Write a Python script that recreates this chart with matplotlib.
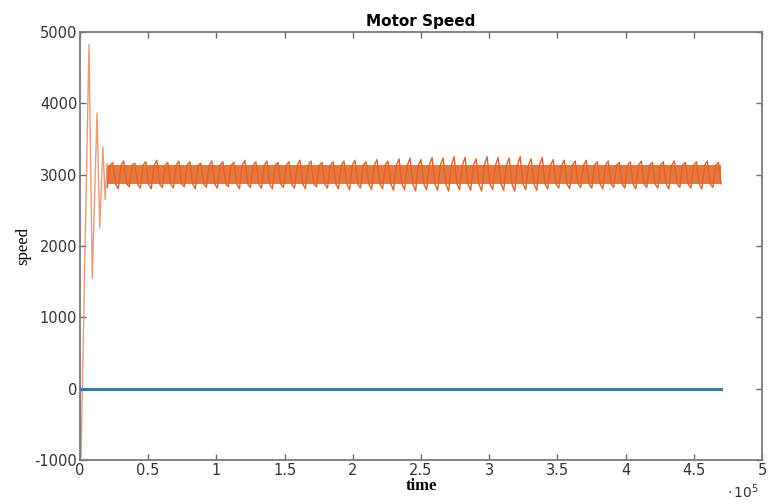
#!/usr/bin/env python3

import numpy as np
import matplotlib
matplotlib.use('Agg')
import matplotlib.pyplot as plt
from matplotlib.ticker import FuncFormatter

plt.rcParams['axes.unicode_minus'] = False

# start-up transient of the speed (time, speed)
trans_t = [0, 800, 6600, 9000, 12500, 14500, 16800, 18500, 19800]
trans_v = [0, -950, 4820, 1550, 3860, 2250, 3390, 2650, 3150]

# steady state ripple, one value pair per tooth
ripple_t0, ripple_t1 = 20000, 470000
ripple_hi = [3170, 3190, 3160, 3180, 3200, 3170, 3190, 3180, 3160, 3190,
             3180, 3170, 3200, 3180, 3190, 3170, 3180, 3200, 3190, 3170,
             3180, 3190, 3200, 3180, 3210, 3190, 3220, 3230, 3210, 3240,
             3230, 3250, 3240, 3220, 3250, 3240, 3230, 3250, 3220, 3240,
             3210, 3200, 3190, 3200, 3180, 3190, 3170, 3180, 3190, 3170,
             3180, 3190, 3170, 3180, 3190, 3170]
ripple_lo = [2820, 2800, 2830, 2810, 2800, 2820, 2810, 2830, 2800, 2820,
             2810, 2830, 2800, 2820, 2810, 2800, 2820, 2810, 2800, 2830,
             2810, 2800, 2790, 2810, 2790, 2800, 2780, 2790, 2770, 2790,
             2780, 2770, 2790, 2780, 2770, 2790, 2780, 2770, 2790, 2780,
             2800, 2810, 2800, 2820, 2810, 2800, 2820, 2810, 2800, 2820,
             2810, 2800, 2820, 2810, 2800, 2820]
core_lo, core_hi = 2870, 3130

# reference (zero) line
ref_t = [0, 470000]
ref_v = [0, 0]

orange = '#DF6228'
blue = '#3B7AA6'

fig = plt.figure(figsize=(7.69, 5.04), dpi=100)
ax = fig.add_axes([0.104, 0.087, 0.887, 0.850])

ax.plot(ref_t, ref_v, color=blue, lw=2.2, zorder=3)

ax.plot(trans_t, trans_v, color='#E58A60', lw=1.0, alpha=0.85, zorder=2)

# each tooth: trough, back into the core, spike, back into the core
n = len(ripple_hi)
tt = np.linspace(ripple_t0, ripple_t1, 4 * n)
vv = np.empty(4 * n)
vv[0::4] = ripple_lo
vv[1::4] = core_hi
vv[2::4] = ripple_hi
vv[3::4] = core_lo
ax.fill_between([ripple_t0, ripple_t1], core_lo, core_hi,
                color='#E7773F', lw=0, zorder=1)
ax.plot(tt, vv, color=orange, lw=1.0, zorder=2)

ax.set_xlim(0, 500000)
ax.set_ylim(-1000, 5000)
ax.set_xticks(np.arange(0, 500001, 50000))
ax.set_yticks(np.arange(-1000, 5001, 1000))
ax.xaxis.set_major_formatter(FuncFormatter(lambda v, p: f'{v / 1e5:g}'))

for s in ax.spines.values():
    s.set_color('#7a7a7a')
    s.set_linewidth(1.3)
ax.tick_params(direction='in', length=4, width=1, color='#666666',
               top=True, right=True, labelsize=10.5, labelcolor='#333333', pad=2)

ax.set_title('Motor Speed', fontsize=11, fontweight='bold', pad=4)
ax.set_xlabel('time', family='Liberation Serif', fontsize=12,
              fontweight='bold', labelpad=0)
ax.set_ylabel('speed', family='Liberation Serif', fontsize=12, labelpad=2)
fig.text(0.945, 0.012, r'$\cdot\,10^5$', fontsize=10, color='#333333')

fig.savefig('out.png', dpi=100)
